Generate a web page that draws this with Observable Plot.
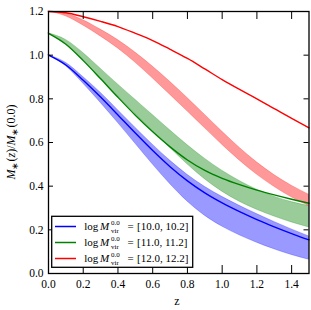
<!DOCTYPE html>
<html><head><meta charset="utf-8">
<script src="https://cdn.jsdelivr.net/npm/d3@7"></script>
<script src="https://cdn.jsdelivr.net/npm/@observablehq/plot@0.6"></script>
<style>body{margin:0;background:#fff;}</style>
</head><body><div id="chart"></div>
<script>
const zValues = [0,0.1,0.2,0.3,0.4,0.5,0.6,0.7,0.8,0.9,1.0,1.1,1.2,1.3,1.4,1.5];

const blueLine  = [1.0,0.955,0.885,0.808,0.726,0.643,0.563,0.489,0.424,0.369,0.323,0.283,0.247,0.214,0.183,0.154];
const blueUpper = [1.0,0.965,0.9,0.828,0.748,0.668,0.59,0.517,0.452,0.397,0.351,0.31,0.272,0.236,0.202,0.17];
const blueLower = [1.0,0.95,0.87,0.782,0.69,0.595,0.5,0.41,0.33,0.265,0.215,0.175,0.141,0.111,0.085,0.063];

const greenLine  = [1.1,1.05,0.975,0.892,0.807,0.725,0.649,0.58,0.52,0.472,0.436,0.407,0.382,0.36,0.34,0.322];
const greenUpper = [1.1,1.07,1.01,0.938,0.866,0.796,0.726,0.656,0.588,0.526,0.471,0.424,0.384,0.352,0.327,0.309];
const greenLower = [1.1,1.052,0.978,0.894,0.811,0.731,0.654,0.576,0.5,0.432,0.375,0.329,0.292,0.261,0.234,0.211];

const redLine  = [1.2,1.194,1.176,1.155,1.131,1.10,1.067,1.027,0.985,0.937,0.888,0.843,0.80,0.755,0.71,0.667];
const redUpper = [1.2,1.19,1.16,1.117,1.069,1.012,0.948,0.878,0.804,0.727,0.65,0.576,0.509,0.451,0.402,0.361];
const redLower = [1.2,1.178,1.136,1.086,1.031,0.966,0.894,0.819,0.743,0.666,0.59,0.518,0.453,0.397,0.349,0.309];

const seriesNames = ["[10.0, 10.2]", "[11.0, 11.2]", "[12.0, 12.2]"];
const seriesColors = ["#0000ff", "#008000", "#ff0000"];
const xTicks = [0,0.2,0.4,0.6,0.8,1.0,1.2,1.4];
const yTicks = [0,0.2,0.4,0.6,0.8,1.0,1.2];

const lines = [blueLine, greenLine, redLine];
const uppers = [blueUpper, greenUpper, redUpper];
const lowers = [blueLower, greenLower, redLower];

const series = seriesNames.map((name, s) => zValues.map((z, i) => ({
  z, v: lines[s][i], hi: uppers[s][i], lo: lowers[s][i], name
})));

const W = 311, H = 310, mL = 48, mR = 2.5, mT = 11, mB = 37;
const innerW = W - mL - mR, innerH = H - mT - mB;
const font = "'Liberation Serif', 'Times New Roman', serif";

const marks = [];
series.forEach((rows, s) => {
  marks.push(Plot.areaY(rows, {x: "z", y1: "lo", y2: "hi", fill: seriesColors[s], fillOpacity: 0.4,
    stroke: seriesColors[s], strokeOpacity: 0.3, strokeWidth: 0.8, curve: "monotone-x"}));
});
series.forEach((rows, s) => {
  marks.push(Plot.line(rows, {x: "z", y: "v", stroke: seriesColors[s], strokeWidth: 1.4, curve: "monotone-x"}));
});
marks.push(
  Plot.axisX(xTicks, {tickSize: 0, tickPadding: 6, tickFormat: d3.format(".1f"), fill: "black", fontFamily: font}),
  Plot.axisY(yTicks, {tickSize: 0, tickPadding: 5, tickFormat: d3.format(".1f"), fill: "black", fontFamily: font}),
  Plot.tickX(xTicks, {x: d => d, insetTop: innerH - 8, stroke: "black", strokeWidth: 1}),
  Plot.tickX(xTicks, {x: d => d, insetBottom: innerH - 8, stroke: "black", strokeWidth: 1}),
  Plot.tickY(yTicks, {y: d => d, insetRight: innerW - 5, stroke: "black", strokeWidth: 1}),
  Plot.tickY(yTicks, {y: d => d, insetLeft: innerW - 5, stroke: "black", strokeWidth: 1}),
  Plot.frame({stroke: "black", strokeWidth: 1.3})
);

const plot = Plot.plot({
  width: W, height: H,
  marginLeft: mL, marginRight: mR, marginTop: mT, marginBottom: mB,
  style: {fontFamily: font, fontSize: "11.5px", background: "white", color: "black", overflow: "visible"},
  x: {domain: [0, 1.5], label: null},
  y: {domain: [0, 1.2], label: null},
  marks
});
document.getElementById("chart").appendChild(plot);

const svg = d3.select(plot);

// y-axis label
const ylab = svg.append("text")
  .attr("transform", "translate(15,142) rotate(-90)")
  .attr("text-anchor", "middle")
  .style("font-family", font).style("font-size", "12px").attr("fill", "black");
ylab.append("tspan").attr("font-style", "italic").text("M");
ylab.append("tspan").style("font-size", "9px").attr("dy", 2.5).text("\u2217");
ylab.append("tspan").attr("dy", -2.5).text("(");
ylab.append("tspan").attr("font-style", "italic").text("z");
ylab.append("tspan").text(")/");
ylab.append("tspan").attr("font-style", "italic").text("M");
ylab.append("tspan").style("font-size", "9px").attr("dy", 2.5).text("\u2217");
ylab.append("tspan").attr("dy", -2.5).text("(0.0)");

// x-axis label
svg.append("text").attr("x", 177).attr("y", 305)
  .attr("text-anchor", "middle").style("font-family", font).style("font-size", "12px")
  .attr("fill", "black").text("z");

// legend
const lg = svg.append("g").attr("text-anchor", "start");
lg.append("rect").attr("x", 51.7).attr("y", 216.3).attr("width", 141).attr("height", 51)
  .attr("fill", "white").attr("stroke", "black").attr("stroke-width", 1.3);
const rowY = [226.5, 242.5, 258.5];
seriesNames.forEach((name, s) => {
  const y = rowY[s];
  lg.append("line").attr("x1", 55).attr("x2", 76).attr("y1", y).attr("y2", y)
    .attr("stroke", seriesColors[s]).attr("stroke-width", 1.5);
  const base = y + 3;
  const t = (x, yy, txt, size, italic) => lg.append("text").attr("x", x).attr("y", yy)
    .attr("text-anchor", "start")
    .style("font-family", font).style("font-size", size + "px").attr("fill", "black")
    .attr("font-style", italic ? "italic" : "normal").text(txt);
  t(84.3, base, "log", 11, false);
  t(100, base, "M", 11, true);
  t(111, base - 4.5, "0.0", 7, false);
  t(111, base + 3.5, "vir", 7, false);
  t(127.5, base, "=", 11, false);
  t(137, base, name, 11, false);
});
</script>
</body></html>
